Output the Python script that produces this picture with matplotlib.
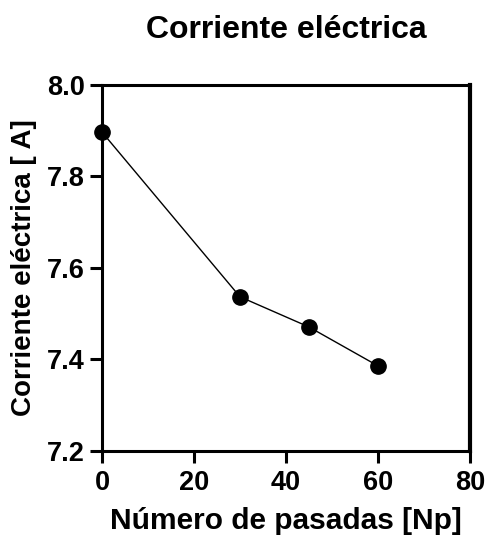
import matplotlib
matplotlib.use("Agg")
import matplotlib.pyplot as plt

plt.rcParams['font.family'] = ['Liberation Sans', 'DejaVu Sans']
plt.rcParams['font.weight'] = 'bold'

pasadas = [0, 30, 45, 60]
corriente = [7.897, 7.537, 7.471, 7.386]

fig = plt.figure(figsize=(4.86, 5.42), dpi=100)
ax = fig.add_axes([0.2099, 0.1679, 0.7572, 0.6753])

ax.plot(pasadas, corriente, color="black", lw=1, marker="o", ms=11, clip_on=False, zorder=3)

ax.set_xlim(0, 80)
ax.set_ylim(7.2, 8.0)
ax.set_xticks([0, 20, 40, 60, 80])
ax.set_yticks([7.2, 7.4, 7.6, 7.8, 8.0])
ax.set_yticklabels(["7.2", "7.4", "7.6", "7.8", "8.0"])

for s in ax.spines.values():
    s.set_linewidth(2.2)
ax.spines['right'].set_linewidth(3)
ax.tick_params(width=2.2, length=8.5, labelsize=19.5)
ax.tick_params(axis="x", pad=5)
ax.tick_params(axis="y", pad=4)

ax.set_xlabel("Número de pasadas [Np]", fontsize=21.5, fontweight="bold", labelpad=8)
ax.set_ylabel("Corriente eléctrica [ A]", fontsize=20, fontweight="bold", labelpad=7)
ax.set_title("Corriente eléctrica", fontsize=23, fontweight="bold", pad=34)

fig.savefig("out.png", dpi=100)
